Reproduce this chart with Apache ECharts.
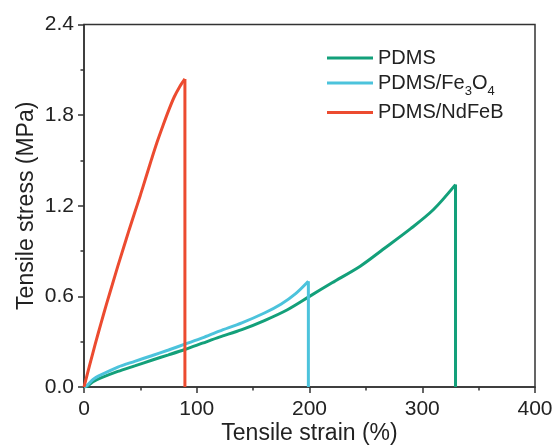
<!DOCTYPE html>
<html>
<head>
<meta charset="utf-8">
<script src="https://cdn.jsdelivr.net/npm/echarts@6/dist/echarts.min.js"></script>
<style>
html,body{margin:0;padding:0;background:#fff;}
#chart{width:555px;height:448px;}
</style>
</head>
<body>
<div id="chart"></div>
<script>
// Series names
var seriesNames = ['PDMS', 'PDMS/Fe3O4', 'PDMS/NdFeB'];

// PDMS: loading curve [strain %, stress MPa]; last point = failure
var pdmsStrain = [0, 3, 8, 15, 30, 45, 60, 75, 90, 105, 120, 140, 160, 180, 200, 220, 245, 265, 290, 310, 329.5];
var pdmsStress = [0, 0.005, 0.035, 0.06, 0.103, 0.14, 0.177, 0.213, 0.25, 0.29, 0.33, 0.38, 0.44, 0.51, 0.60, 0.69, 0.80, 0.91, 1.05, 1.175, 1.34];

// PDMS/Fe3O4
var fe3o4Strain = [0, 3, 8, 15, 30, 45, 60, 75, 90, 105, 120, 140, 160, 175, 188, 199];
var fe3o4Stress = [0, 0.012, 0.05, 0.08, 0.132, 0.17, 0.207, 0.245, 0.285, 0.325, 0.37, 0.425, 0.49, 0.55, 0.62, 0.70];

// PDMS/NdFeB
var ndfebStrain = [0, 5, 10, 15, 20, 25, 30, 35, 40, 45, 50, 55, 60, 65, 70, 75, 80, 85, 89.5];
var ndfebStress = [0, 0.145, 0.285, 0.42, 0.55, 0.675, 0.80, 0.92, 1.04, 1.155, 1.27, 1.39, 1.51, 1.625, 1.73, 1.83, 1.92, 1.99, 2.04];

// Axis ticks
var xTicks = [0, 100, 200, 300, 400];
var yTicks = [0.0, 0.6, 1.2, 1.8, 2.4];

var colors = ['#13a07a', '#4cc3dc', '#ec4b30'];

function zip(a, b) { return a.map(function (v, i) { return [v, b[i]]; }); }
// vertical drop at failure, from the last point of each curve down to zero
function drop(a, b) { var n = a.length - 1; return [[a[n], b[n]], [a[n], 0]]; }

var FONT = '"Liberation Sans", Arial, sans-serif';
var axisColor = '#333';

var curves = [[pdmsStrain, pdmsStress], [fe3o4Strain, fe3o4Stress], [ndfebStrain, ndfebStress]];
var series = [];
curves.forEach(function (c, i) {
  series.push({name: seriesNames[i], type: 'line', data: zip(c[0], c[1]), showSymbol: false, smooth: 0.3,
    color: colors[i], lineStyle: {width: 3}, clip: true});
  series.push({name: seriesNames[i], type: 'line', data: drop(c[0], c[1]), showSymbol: false,
    color: colors[i], lineStyle: {width: 3}, clip: true});
});

var chart = echarts.init(document.getElementById('chart'), null, {renderer: 'canvas'});
chart.setOption({
  animation: false,
  backgroundColor: '#fff',
  grid: {
    left: 84, right: 20, top: 24.5, bottom: 61,
    containLabel: false, outerBoundsMode: 'none',
    show: true, borderColor: axisColor, borderWidth: 1.5, backgroundColor: 'transparent'
  },
  legend: {
    orient: 'vertical',
    left: 322, top: 43,
    itemWidth: 46, itemHeight: 3,
    itemGap: 5,
    icon: 'rect',
    data: seriesNames,
    formatter: function (name) {
      return name.replace('Fe3O4', 'Fe{sub|3}O{sub|4}');
    },
    textStyle: {
      fontFamily: FONT, fontSize: 20, color: '#222',
      rich: {
        sub: {fontFamily: FONT, fontSize: 13, color: '#222', verticalAlign: 'bottom', lineHeight: 29}
      }
    }
  },
  xAxis: {
    type: 'value', min: xTicks[0], max: xTicks[xTicks.length - 1], interval: 100,
    name: 'Tensile strain (%)', nameLocation: 'middle', nameGap: 35, nameMoveOverlap: false,
    nameTextStyle: {fontFamily: FONT, fontSize: 23, color: '#222'},
    axisLine: {show: true, onZero: false, lineStyle: {color: axisColor, width: 1.5}},
    axisTick: {show: true, inside: false, length: 6, lineStyle: {color: axisColor, width: 1.5}},
    minorTick: {show: true, splitNumber: 2, length: 3.5, lineStyle: {color: axisColor, width: 1.5}},
    splitLine: {show: false},
    axisLabel: {fontFamily: FONT, fontSize: 21, color: '#222', margin: 12}
  },
  yAxis: {
    type: 'value', min: yTicks[0], max: yTicks[yTicks.length - 1], interval: 0.6,
    name: 'Tensile stress (MPa)', nameLocation: 'middle', nameGap: 46, nameMoveOverlap: false,
    nameTextStyle: {fontFamily: FONT, fontSize: 23, color: '#222'},
    axisLine: {show: true, onZero: false, lineStyle: {color: axisColor, width: 1.5}},
    axisTick: {show: true, inside: false, length: 6, lineStyle: {color: axisColor, width: 1.5}},
    minorTick: {show: true, splitNumber: 2, length: 3.5, lineStyle: {color: axisColor, width: 1.5}},
    splitLine: {show: false},
    axisLabel: {
      fontFamily: FONT, fontSize: 21, color: '#222', margin: 10,
      formatter: function (v) { return v.toFixed(1); }
    }
  },
  series: series
});
</script>
</body>
</html>
